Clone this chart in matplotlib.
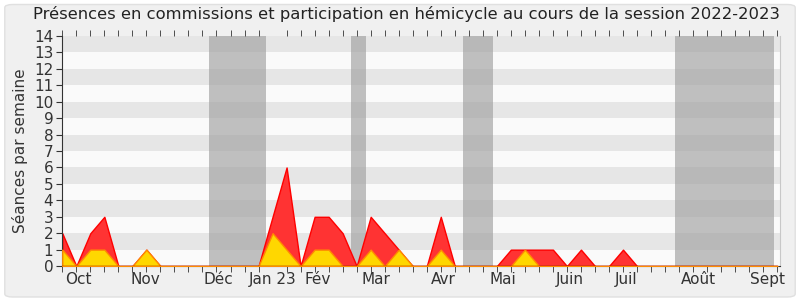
import numpy as np
import matplotlib.pyplot as plt
from matplotlib.patches import FancyBboxPatch

# weekly values, week 0 = first week of the session (late Sept 2022)
weeks = np.arange(52)
hemicycle = [2, 0, 2, 3, 0, 0, 1, 0, 0, 0, 0, 0, 0, 0, 0, 3, 6, 0, 3, 3,
             2, 0, 3, 2, 1, 0, 0, 3, 0, 0, 0, 0, 1, 1, 1, 1, 0, 1, 0, 0,
             1, 0, 0, 0, 0, 0, 0, 0, 0, 0, 0, 0]
commission = [1, 0, 1, 1, 0, 0, 1, 0, 0, 0, 0, 0, 0, 0, 0, 2, 1, 0, 1, 1,
              0, 0, 1, 0, 1, 0, 0, 1, 0, 0, 0, 0, 0, 1, 0, 0, 0, 0, 0, 0,
              0, 0, 0, 0, 0, 0, 0, 0, 0, 0, 0, 0]

month_labels = ["Oct", "Nov", "Déc", "Jan 23", "Fév", "Mar", "Avr", "Mai",
                "Juin", "Juil", "Août", "Sept"]
month_pos = [1.15, 5.95, 11.1, 15.0, 18.2, 22.4, 27.2, 31.4, 36.2, 40.2, 45.4, 50.3]

# parliamentary breaks (in weeks)
breaks = [(10.5, 14.55), (20.6, 21.7), (28.6, 30.7), (43.7, 50.75)]

fig = plt.figure(figsize=(8, 3), dpi=100)
fig.patch.set_facecolor("white")
bg = FancyBboxPatch((0.006, 0.01), 0.988, 0.975, boxstyle="round,pad=0,rounding_size=0.01",
                    transform=fig.transFigure, facecolor="#f0f0f0", edgecolor="#e0e0e0",
                    linewidth=1, zorder=-10)
fig.patches.append(bg)

ax = fig.add_axes([0.077, 0.113, 0.898, 0.767])
ax.set_facecolor("#fafafa")

for i in range(14):
    if i % 2 == 1:
        ax.axhspan(i, i + 1, color="#e6e6e6", zorder=0, lw=0)

for a, b in breaks:
    ax.axvspan(a, b, color="#a0a0a0", alpha=0.65, zorder=1, lw=0)

ax.fill_between(weeks, hemicycle, color="#ff3333", edgecolor="#ff0000", lw=1, zorder=2)
ax.fill_between(weeks, commission, color="#ffd700", edgecolor="#ff8c00", lw=1, zorder=3)
ax.plot(weeks, np.zeros(len(weeks)), color="#800000", lw=1, zorder=4)

ax.set_xlim(-0.05, 51.2)
ax.set_ylim(0, 14)
ax.set_yticks(range(15))
ax.set_xticks(weeks, minor=True)
ax.set_xticks(month_pos)
ax.set_xticklabels(month_labels)
ax.tick_params(axis="x", which="major", length=0, labelsize=11, colors="#333333", pad=4)
ax.tick_params(axis="x", which="minor", length=4, color="#333333", top=True)
ax.tick_params(axis="y", labelsize=11, colors="#333333", length=4, pad=2)

ax.spines["top"].set_visible(False)
ax.spines["right"].set_color("#c8c8c8")
ax.spines["bottom"].set_color("#333333")
ax.spines["left"].set_color("#333333")

ax.set_ylabel("Séances par semaine", fontsize=11, color="#333333")
fig.text(0.508, 0.955, "Présences en commissions et participation en hémicycle au cours de la session 2022-2023",
         ha="center", va="center", fontsize=11.8, color="#222222")

fig.savefig("out.png", dpi=100, facecolor="white")
